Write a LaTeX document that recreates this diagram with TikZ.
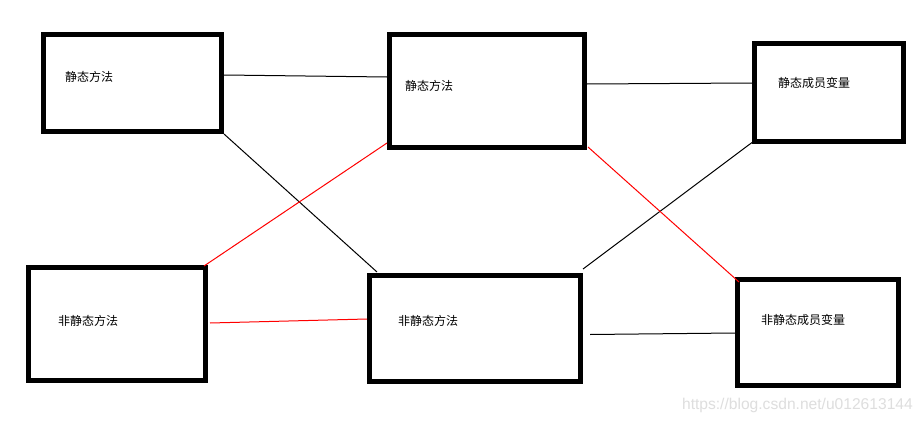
\documentclass[tikz,border=0pt]{standalone}
\usepackage{fontspec}
\newfontfamily\cjk{Noto Sans CJK SC}
\newfontfamily\wmfont{Liberation Sans}
\usepackage{tikz}

\begin{document}
\begin{tikzpicture}[x=1pt,y=-1pt,
    box/.style={draw,line width=5pt,minimum width=#1,inner sep=0pt},
    lbl/.style={anchor=west,inner sep=0pt,font=\cjk\fontsize{12}{14}\selectfont},
    link/.style={line width=1pt}]
  \useasboundingbox[fill=white] (0,0) rectangle (924,423);
  \node[box=178pt,minimum height=97pt]  (sm1) at (132.5,83)  {};
  \node[box=195pt,minimum height=113pt] (sm2) at (487,91)    {};
  \node[box=149pt,minimum height=98pt]  (sv)  at (829,92.5)  {};
  \node[box=177pt,minimum height=113pt] (nm1) at (117,324)   {};
  \node[box=211pt,minimum height=106pt] (nm2) at (475,328.5) {};
  \node[box=161pt,minimum height=106pt] (nv)  at (818,332.5) {};
  \node[lbl] (sm1t) at (65,77)  {静态方法};
  \node[lbl] (sm2t) at (405,86) {静态方法};
  \node[lbl] (svt)  at (778,83) {静态成员变量};
  \node[lbl] (nm1t) at (58,321) {非静态方法};
  \node[lbl] (nm2t) at (398,321) {非静态方法};
  \node[lbl] (nvt)  at (761,320) {非静态成员变量};
  % links
  \draw[link] ([yshift=8pt]sm1.east) -- ([yshift=14pt]sm2.west);
  \draw[link] ([yshift=7pt]sm2.east) -- ([yshift=9.5pt]sv.west);
  \draw[link] (sm1.south east) -- ([xshift=10pt,yshift=1pt]nm2.north west);
  \draw[link] ([xshift=2pt,yshift=3pt]sv.south west) -- ([yshift=4pt]nm2.north east);
  \draw[link] ([xshift=7pt,yshift=-6pt]nm2.east) -- ([yshift=-0.5pt]nv.west);
  \draw[link,red] ([yshift=7pt]sm2.south west) -- ([xshift=-4pt,yshift=-1pt]nm1.north east);
  \draw[link,red] ([xshift=1pt,yshift=3pt]sm2.south east) -- ([xshift=4pt,yshift=-5pt]nv.north west);
  \draw[link,red] ([xshift=2pt,yshift=1pt]nm1.east) -- ([yshift=9.5pt]nm2.west);
  \node[anchor=base east,inner sep=0pt,text=black!13,font=\wmfont\fontsize{15.6}{17}\selectfont] (mark) at (913,409) {https://blog.csdn.net/u012613144};
\end{tikzpicture}
\end{document}
